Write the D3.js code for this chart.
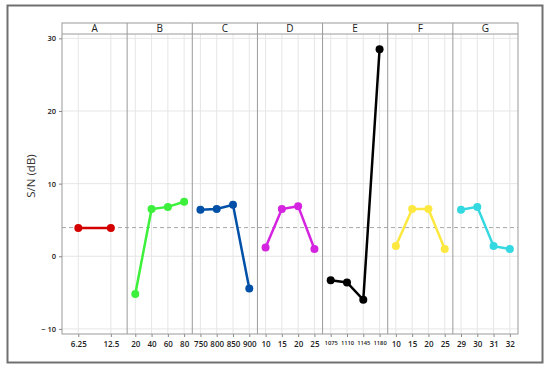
<!DOCTYPE html>
<html>
<head>
<meta charset="utf-8">
<script src="https://cdn.jsdelivr.net/npm/d3@7"></script>
<style>
  body { margin: 0; background: #fff; }
  text { font-family: "Open Sans", "DejaVu Sans", sans-serif; }
</style>
</head>
<body>
<svg width="550" height="371"></svg>
<script>
// factor names and their levels
var factors = ["A", "B", "C", "D", "E", "F", "G"];
var levelsA = ["6.25", "12.5"];
var levelsB = ["20", "40", "60", "80"];
var levelsC = ["750", "800", "850", "900"];
var levelsD = ["10", "15", "20", "25"];
var levelsE = ["1075", "1110", "1145", "1180"];
var levelsF = ["10", "15", "20", "25"];
var levelsG = ["29", "30", "31", "32"];

// mean S/N ratio per level
var snA = [3.9, 3.9];
var snB = [-5.2, 6.5, 6.8, 7.5];
var snC = [6.4, 6.5, 7.1, -4.45];
var snD = [1.2, 6.5, 6.9, 1.0];
var snE = [-3.3, -3.6, -6.0, 28.5];
var snF = [1.4, 6.5, 6.5, 1.0];
var snG = [6.4, 6.8, 1.4, 1.0];

var overallMean = 3.95;
var yTicks = [-10, 0, 10, 20, 30];
var colors = ["#d40000", "#3cf03c", "#0050a8", "#d424e0", "#000000", "#fce840", "#34d8e0"];

var levels = [levelsA, levelsB, levelsC, levelsD, levelsE, levelsF, levelsG];
var values = [snA, snB, snC, snD, snE, snF, snG];

var svg = d3.select("svg");

// outer frame
svg.append("rect")
  .attr("x", 7.5).attr("y", 5.5)
  .attr("width", 535).attr("height", 357)
  .attr("fill", "none")
  .attr("stroke", "#707070")
  .attr("stroke-width", 2);

var pLeft = 62, pRight = 518, stripTop = 23, pTop = 34, pBottom = 334;

var y = d3.scaleLinear().domain([-10.7, 30.6]).range([pBottom, pTop]);
var panel = d3.scaleBand().domain(factors).range([pLeft, pRight]);

function xScale(i) {
  var x0 = panel(factors[i]);
  return d3.scalePoint().domain(levels[i]).range([x0, x0 + panel.bandwidth()]).padding(0.5);
}

var grid = svg.append("g");

// horizontal gridlines
grid.selectAll(".hgrid")
  .data(yTicks)
  .enter().append("line")
  .attr("x1", pLeft).attr("x2", pRight)
  .attr("y1", function(d) { return y(d); })
  .attr("y2", function(d) { return y(d); })
  .attr("stroke", "#e6e6e6");

factors.forEach(function(f, i) {
  var x = xScale(i);
  var x0 = panel(f);

  // vertical gridlines
  grid.selectAll(".vgrid" + f)
    .data(levels[i])
    .enter().append("line")
    .attr("x1", function(d) { return x(d); })
    .attr("x2", function(d) { return x(d); })
    .attr("y1", pTop).attr("y2", pBottom)
    .attr("stroke", "#e6e6e6");

  // x axis ticks + labels
  var ax = svg.append("g")
    .attr("transform", "translate(0," + pBottom + ")")
    .call(d3.axisBottom(x).tickSize(3).tickPadding(4));
  ax.select(".domain").remove();
  ax.selectAll("line").attr("stroke", "#888");
  ax.selectAll("text")
    .attr("fill", "#222")
    .attr("font-family", "'Open Sans', sans-serif")
    .attr("font-weight", 600)
    .attr("font-size", f === "E" ? 5.8 : 8);

  // strip header
  svg.append("text")
    .attr("x", x0 + panel.bandwidth() / 2)
    .attr("y", (stripTop + pTop) / 2 + 3.5)
    .attr("text-anchor", "middle")
    .attr("font-size", 10)
    .attr("fill", "#222")
    .text(f);
});

// mean reference line
svg.append("line")
  .attr("x1", pLeft).attr("x2", pRight)
  .attr("y1", y(overallMean)).attr("y2", y(overallMean))
  .attr("stroke", "#a8a8a8")
  .attr("stroke-dasharray", "4,3");

// panel borders and strip
var frame = svg.append("g").attr("fill", "none").attr("stroke", "#9a9a9a");
frame.append("rect")
  .attr("x", pLeft).attr("y", stripTop)
  .attr("width", pRight - pLeft).attr("height", pBottom - stripTop);
frame.append("line")
  .attr("x1", pLeft).attr("x2", pRight)
  .attr("y1", pTop).attr("y2", pTop);
frame.selectAll(".sep")
  .data(factors.slice(1))
  .enter().append("line")
  .attr("x1", function(d) { return panel(d); })
  .attr("x2", function(d) { return panel(d); })
  .attr("y1", stripTop).attr("y2", pBottom);

// lines and markers
factors.forEach(function(f, i) {
  var x = xScale(i);
  var data = levels[i].map(function(l, j) { return {level: l, value: values[i][j]}; });
  var line = d3.line()
    .x(function(d) { return x(d.level); })
    .y(function(d) { return y(d.value); });
  svg.append("path")
    .datum(data)
    .attr("d", line)
    .attr("fill", "none")
    .attr("stroke", colors[i])
    .attr("stroke-width", 2.5);
  svg.selectAll(".pt" + f)
    .data(data)
    .enter().append("circle")
    .attr("cx", function(d) { return x(d.level); })
    .attr("cy", function(d) { return y(d.value); })
    .attr("r", 4)
    .attr("fill", colors[i]);
});

// y axis
var yAxis = svg.append("g")
  .attr("transform", "translate(" + pLeft + ",0)")
  .call(d3.axisLeft(y).tickValues(yTicks).tickSize(3).tickPadding(3));
yAxis.select(".domain").remove();
yAxis.selectAll("line").attr("stroke", "#888");
yAxis.selectAll("text")
  .attr("fill", "#222")
  .attr("font-family", "'Open Sans', sans-serif")
  .attr("font-weight", 600)
  .attr("font-size", 7.5)
  .text(function(d) { return d < 0 ? "\u2212 " + Math.abs(d) : d; });

svg.append("text")
  .attr("transform", "translate(35,176) rotate(-90)")
  .attr("text-anchor", "middle")
  .attr("font-size", 11.5)
  .attr("fill", "#333")
  .text("S/N (dB)");
</script>
</body>
</html>
